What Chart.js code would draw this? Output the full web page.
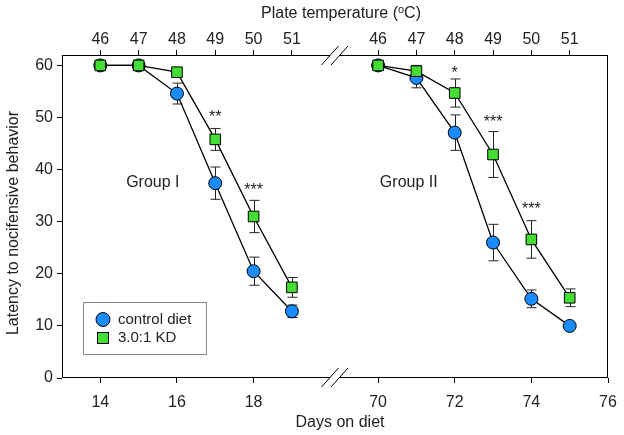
<!DOCTYPE html>
<html>
<head>
<meta charset="utf-8">
<script src="https://cdn.jsdelivr.net/npm/chart.js@4"></script>
<style>
  html, body { margin: 0; padding: 0; background: #fff; }
  #wrap { width: 624px; height: 435px; }
</style>
</head>
<body>
<div id="wrap"><canvas id="latencyChart"></canvas></div>
<script>
// days and plate temperatures
const days1 = [14, 15, 16, 17, 18, 19];
const days2 = [70, 71, 72, 73, 74, 75];
const temps = [46, 47, 48, 49, 50, 51];
const dayTicks = [14, 16, 18, 70, 72, 74, 76];
const yTicks = [0, 10, 20, 30, 40, 50, 60];

// Group I
const ctrl1 = [60, 60, 54.6, 37.4, 20.5, 12.8];
const ctrl1Err = [0, 0, 2.0, 3.1, 2.7, 1.2];
const kd1 = [60, 60, 58.7, 45.8, 31.0, 17.4];
const kd1Err = [0, 0, 0.8, 2.1, 3.1, 1.9];

// Group II
const ctrl2 = [60, 57.6, 47.1, 26.0, 15.2, 10.0];
const ctrl2Err = [0, 1.9, 3.4, 3.5, 1.7, 0.5];
const kd2 = [60, 58.9, 54.7, 42.9, 26.6, 15.4];
const kd2Err = [0, 1.1, 2.7, 4.4, 3.6, 1.7];

// significance stars
const starDays = [17, 18, 72, 73, 74];
const starY = [51, 37, 59.4, 50, 33.2];
const starText = ['**', '***', '*', '***', '***'];

const groupNames = ['Group I', 'Group II'];
const groupDays = [15.37, 70.8];
const groupY = [37.5, 37.5];

// broken x axis: 20.125 .. 68.875 is cut out
const BREAK_LO = 20.125;
const BREAK_HI = 68.875;
const SHIFT = BREAK_HI - BREAK_LO;
const pos = d => (d > BREAK_HI ? d - SHIFT : d);
const unpos = v => (v > BREAK_LO ? v + SHIFT : v);

const BLUE = '#1a8cff';
const GREEN = '#44dd33';
const FONT = "'Liberation Sans', Arial, sans-serif";

const pts = (days, vals) => days.map((d, i) => ({ x: pos(d), y: vals[i] }));

const errSets = [
  [days1, ctrl1, ctrl1Err], [days1, kd1, kd1Err],
  [days2, ctrl2, ctrl2Err], [days2, kd2, kd2Err]
];

const extras = {
  id: 'extras',
  beforeDatasetsDraw(chart) {
    const { ctx } = chart;
    const xs = chart.scales.x, ys = chart.scales.y;
    ctx.save();
    ctx.strokeStyle = '#222';
    ctx.lineWidth = 1;
    errSets.forEach(([days, vals, errs]) => {
      days.forEach((d, i) => {
        if (!errs[i]) return;
        const px = Math.round(xs.getPixelForValue(pos(d))) + 0.5;
        const y1 = ys.getPixelForValue(vals[i] + errs[i]);
        const y2 = ys.getPixelForValue(vals[i] - errs[i]);
        ctx.beginPath();
        ctx.moveTo(px, y1); ctx.lineTo(px, y2);
        ctx.moveTo(px - 5, y1); ctx.lineTo(px + 5, y1);
        ctx.moveTo(px - 5, y2); ctx.lineTo(px + 5, y2);
        ctx.stroke();
      });
    });
    ctx.restore();
  },
  afterDraw(chart) {
    const { ctx, chartArea: a } = chart;
    const xs = chart.scales.x, ys = chart.scales.y;
    ctx.save();

    // frame with axis break
    const bx = xs.getPixelForValue(BREAK_LO);
    const s1 = bx - 5, s2 = bx + 4.5;
    ctx.strokeStyle = '#000';
    ctx.lineWidth = 1;
    ctx.beginPath();
    ctx.moveTo(a.left + 0.5, a.top); ctx.lineTo(a.left + 0.5, a.bottom);
    ctx.moveTo(a.right - 0.5, a.top); ctx.lineTo(a.right - 0.5, a.bottom);
    [a.top + 0.5, a.bottom - 0.5].forEach(y => {
      ctx.moveTo(a.left, y); ctx.lineTo(s1, y);
      ctx.moveTo(s2, y); ctx.lineTo(a.right, y);
      [s1, s2].forEach(cx => {
        ctx.moveTo(cx - 8.5, y + 9.5); ctx.lineTo(cx + 8.5, y - 9.5);
      });
    });
    ctx.stroke();

    // stars and group labels
    ctx.fillStyle = '#222';
    ctx.textAlign = 'center';
    ctx.textBaseline = 'middle';
    ctx.font = '16px ' + FONT;
    starDays.forEach((d, i) => {
      ctx.fillText(starText[i], xs.getPixelForValue(pos(d)), ys.getPixelForValue(starY[i]) + 5);
    });
    groupNames.forEach((g, i) => {
      ctx.fillText(g, xs.getPixelForValue(pos(groupDays[i])), ys.getPixelForValue(groupY[i]));
    });

    // axis titles
    ctx.fillText('Days on diet', 340, 423);
    ctx.save();
    ctx.translate(14, 223);
    ctx.rotate(-Math.PI / 2);
    ctx.fillText('Latency to nocifensive behavior', 0, 0);
    ctx.restore();

    // top title with superscript o
    const t1 = 'Plate temperature (', t3 = 'C)';
    ctx.font = '16px ' + FONT;
    const w1 = ctx.measureText(t1).width, w3 = ctx.measureText(t3).width;
    ctx.font = '11px ' + FONT;
    const w2 = ctx.measureText('o').width;
    let x = 341 - (w1 + w2 + w3) / 2;
    ctx.textAlign = 'left';
    ctx.font = '16px ' + FONT;
    ctx.fillText(t1, x, 14);
    ctx.font = '11px ' + FONT;
    ctx.fillText('o', x + w1, 10);
    ctx.font = '16px ' + FONT;
    ctx.fillText(t3, x + w1 + w2, 14);

    // legend box
    ctx.strokeStyle = '#888';
    ctx.strokeRect(83.5, 302.5, 123, 52);
    ctx.lineWidth = 1;
    ctx.strokeStyle = '#000';
    ctx.fillStyle = BLUE;
    ctx.beginPath();
    ctx.arc(103, 319.5, 7, 0, Math.PI * 2);
    ctx.fill(); ctx.stroke();
    ctx.fillStyle = GREEN;
    ctx.fillRect(97.5, 332.5, 11, 11);
    ctx.strokeRect(97.5, 332.5, 11, 11);
    ctx.fillStyle = '#222';
    ctx.font = '15px ' + FONT;
    ctx.textBaseline = 'middle';
    ctx.fillText('control diet', 118, 320);
    ctx.fillText('3.0:1 KD', 118, 338);
    ctx.restore();
  }
};

const lineStyle = {
  borderColor: '#000',
  borderWidth: 1.3,
  pointBorderColor: '#000',
  pointBorderWidth: 1,
  tension: 0
};
const ctrlStyle = { ...lineStyle, pointStyle: 'circle', pointRadius: 6.5, pointBackgroundColor: BLUE, order: 2 };
const kdStyle = { ...lineStyle, pointStyle: 'rect', pointRadius: 7.5, pointBackgroundColor: GREEN, order: 1 };

const tickFont = { family: FONT, size: 16 };
const tickGrid = { drawOnChartArea: false, drawTicks: true, tickLength: 5, color: '#000' };

// keep the plot area fixed: no extra side padding from edge labels
const fitX = h => s => { s.height = h; s.paddingLeft = 0; s.paddingRight = 0; };

new Chart(document.getElementById('latencyChart'), {
  type: 'line',
  data: {
    datasets: [
      { label: 'control diet', data: pts(days1, ctrl1), ...ctrlStyle },
      { label: '3.0:1 KD', data: pts(days1, kd1), ...kdStyle },
      { label: 'control diet II', data: pts(days2, ctrl2), ...ctrlStyle },
      { label: '3.0:1 KD II', data: pts(days2, kd2), ...kdStyle }
    ]
  },
  options: {
    responsive: true,
    maintainAspectRatio: false,
    animation: false,
    layout: { padding: { left: 0, right: 16, top: 0, bottom: 0 } },
    plugins: { legend: { display: false }, tooltip: { enabled: false } },
    scales: {
      x: {
        type: 'linear',
        position: 'bottom',
        min: 13,
        max: pos(76),
        border: { display: false },
        grid: tickGrid,
        afterBuildTicks: s => { s.ticks = dayTicks.map(d => ({ value: pos(d) })); },
        afterFit: fitX(57),
        ticks: {
          font: tickFont, color: '#222', padding: 10, maxRotation: 0,
          callback: v => String(Math.round(unpos(v)))
        }
      },
      x2: {
        type: 'linear',
        position: 'top',
        min: 13,
        max: pos(76),
        border: { display: false },
        grid: tickGrid,
        afterBuildTicks: s => {
          s.ticks = days1.concat(days2).map(d => ({ value: pos(d) }));
        },
        afterFit: fitX(55),
        ticks: {
          font: tickFont, color: '#222', padding: 1, maxRotation: 0,
          callback: v => {
            const d = Math.round(unpos(v));
            const i = d < 40 ? days1.indexOf(d) : days2.indexOf(d);
            return String(temps[i]);
          }
        }
      },
      y: {
        min: 0,
        max: 62,
        border: { display: false },
        grid: tickGrid,
        afterBuildTicks: s => { s.ticks = yTicks.map(v => ({ value: v })); },
        afterFit: s => { s.width = 62; s.paddingTop = 0; s.paddingBottom = 0; },
        ticks: { font: tickFont, color: '#222', padding: 4 }
      }
    }
  },
  plugins: [extras]
});
</script>
</body>
</html>
